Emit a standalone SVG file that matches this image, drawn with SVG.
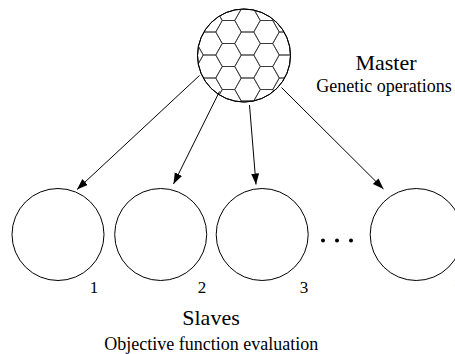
<svg xmlns="http://www.w3.org/2000/svg" xmlns:xlink="http://www.w3.org/1999/xlink" width="455" height="354" viewBox="0 0 455 354">
<style>
.c{fill:#fff;stroke:#000;stroke-width:1}
.hx{fill:none;stroke:#333;stroke-width:0.8}
.ln{stroke:#000;stroke-width:1;fill:none}
text{font-family:'Liberation Serif','Times New Roman',serif;fill:#000;text-anchor:middle}
.big{font-size:22px}
.mid{font-size:18px}
.num{font-size:17px}
</style>
<defs>
<polygon id="hex" points="-6.25,-11.5 6.25,-11.5 12.75,0 6.25,11.5 -6.25,11.5 -12.75,0"/>
<clipPath id="mclip"><circle cx="244" cy="55.5" r="46"/></clipPath>
<marker id="arr" markerUnits="userSpaceOnUse" markerWidth="12" markerHeight="10" refX="11" refY="4" orient="auto">
<path d="M0,0 L11,4 L0,8 Z" fill="#000"/>
</marker>
</defs>
<g id="master">
<circle class="c" cx="244" cy="55.5" r="46.5"/>
<g class="hx" clip-path="url(#mclip)">
<use xlink:href="#hex" x="190.5" y="9"/><use xlink:href="#hex" x="190.5" y="32"/><use xlink:href="#hex" x="190.5" y="55"/><use xlink:href="#hex" x="190.5" y="78"/><use xlink:href="#hex" x="190.5" y="101"/>
<use xlink:href="#hex" x="209.5" y="-2.5"/><use xlink:href="#hex" x="209.5" y="20.5"/><use xlink:href="#hex" x="209.5" y="43.5"/><use xlink:href="#hex" x="209.5" y="66.5"/><use xlink:href="#hex" x="209.5" y="89.5"/><use xlink:href="#hex" x="209.5" y="112.5"/>
<use xlink:href="#hex" x="228.5" y="9"/><use xlink:href="#hex" x="228.5" y="32"/><use xlink:href="#hex" x="228.5" y="55"/><use xlink:href="#hex" x="228.5" y="78"/><use xlink:href="#hex" x="228.5" y="101"/>
<use xlink:href="#hex" x="247.5" y="-2.5"/><use xlink:href="#hex" x="247.5" y="20.5"/><use xlink:href="#hex" x="247.5" y="43.5"/><use xlink:href="#hex" x="247.5" y="66.5"/><use xlink:href="#hex" x="247.5" y="89.5"/><use xlink:href="#hex" x="247.5" y="112.5"/>
<use xlink:href="#hex" x="266.5" y="9"/><use xlink:href="#hex" x="266.5" y="32"/><use xlink:href="#hex" x="266.5" y="55"/><use xlink:href="#hex" x="266.5" y="78"/><use xlink:href="#hex" x="266.5" y="101"/>
<use xlink:href="#hex" x="285.5" y="-2.5"/><use xlink:href="#hex" x="285.5" y="20.5"/><use xlink:href="#hex" x="285.5" y="43.5"/><use xlink:href="#hex" x="285.5" y="66.5"/><use xlink:href="#hex" x="285.5" y="89.5"/><use xlink:href="#hex" x="285.5" y="112.5"/>
</g>
<circle cx="244" cy="55.5" r="46.5" fill="none" stroke="#000" stroke-width="1"/>
<text class="big" x="386" y="70" font-family="Liberation Serif, serif">Master</text>
<text class="mid" x="384" y="92" font-family="Liberation Serif, serif">Genetic operations</text>
</g>
<g id="connectors">
<line class="ln" x1="199.5" y1="75.5" x2="77" y2="189.5" marker-end="url(#arr)"/>
<line class="ln" x1="219.5" y1="91.5" x2="173.5" y2="184" marker-end="url(#arr)"/>
<line class="ln" x1="249.5" y1="105" x2="256" y2="184.5" marker-end="url(#arr)"/>
<line class="ln" x1="281.5" y1="87.5" x2="383.5" y2="189" marker-end="url(#arr)"/>
</g>
<g id="slave1"><circle class="c" cx="58" cy="234.5" r="46"/><text class="num" x="94" y="292.5" font-family="Liberation Serif, serif">1</text></g>
<g id="slave2"><circle class="c" cx="160.7" cy="234.5" r="46"/><text class="num" x="202" y="292.5" font-family="Liberation Serif, serif">2</text></g>
<g id="slave3"><circle class="c" cx="262.2" cy="234.5" r="46"/><text class="num" x="304" y="292.5" font-family="Liberation Serif, serif">3</text></g>
<g id="dots">
<circle cx="323" cy="240.5" r="2" fill="#000"/><circle cx="337" cy="240.5" r="2" fill="#000"/><circle cx="351" cy="240.5" r="2" fill="#000"/>
</g>
<g id="slave4"><circle class="c" cx="416.2" cy="234.5" r="46"/><text class="num" x="459" y="292.5" font-family="Liberation Serif, serif">n</text></g>
<g id="labels">
<text class="big" x="211" y="325" font-family="Liberation Serif, serif">Slaves</text>
<text class="mid" x="211.3" y="350" font-family="Liberation Serif, serif">Objective function evaluation</text>
</g>
</svg>
